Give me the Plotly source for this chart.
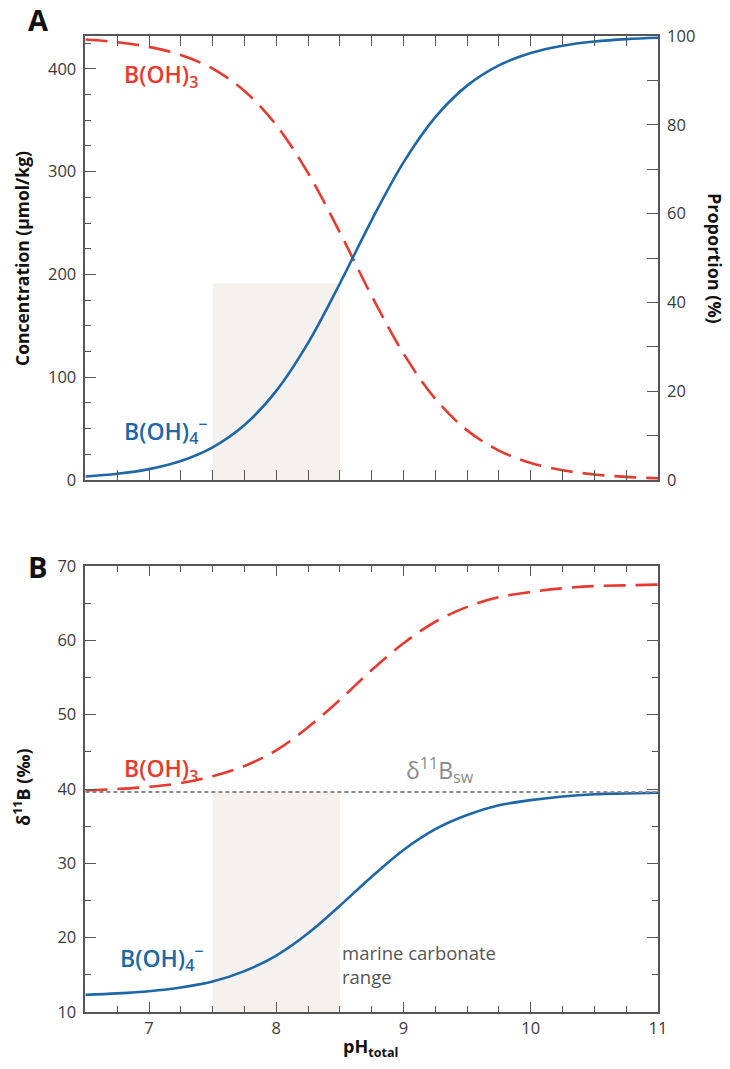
import plotly.graph_objects as go

# ---------------- data ----------------
ph = [6.5, 6.75, 7.0, 7.25, 7.5, 7.75, 8.0, 8.25, 8.5, 8.75,
      9.0, 9.25, 9.5, 9.75, 10.0, 10.25, 10.5, 10.75, 11.0]

# Panel A: concentration (umol/kg)
conc_boh3 = [428.6, 426.0, 421.4, 413.5, 400.2, 378.5, 345.3, 298.6, 240.8, 179.1,
             123.0, 79.0, 48.3, 28.6, 16.6, 9.5, 5.4, 3.0, 1.7]
conc_boh4 = [3.4, 6.0, 10.6, 18.5, 31.8, 53.5, 86.7, 133.4, 191.2, 252.9,
             309.0, 353.0, 383.7, 403.4, 415.4, 422.5, 426.6, 429.0, 430.3]

# Panel B: delta 11B (permil)
d11b_boh3 = [39.8, 40.0, 40.3, 40.8, 41.7, 43.1, 45.2, 48.3, 52.0, 56.0,
             59.6, 62.5, 64.5, 65.8, 66.5, 67.0, 67.3, 67.4, 67.5]
d11b_boh4 = [12.3, 12.5, 12.8, 13.3, 14.1, 15.5, 17.6, 20.6, 24.3, 28.2,
             31.8, 34.6, 36.5, 37.8, 38.5, 39.0, 39.3, 39.4, 39.5]

d11b_sw = 39.6
carbonate_range = [7.5, 8.5]
shade_top_conc = 191.2

x_ticks = [7, 8, 9, 10, 11]
x_tick_labels = ["7", "8", "9", "10", "11"]
conc_ticks = [0, 100, 200, 300, 400]
prop_ticks = [0, 20, 40, 60, 80, 100]
d11b_ticks = [10, 20, 30, 40, 50, 60, 70]

# ---------------- styling ----------------
RED = "#e63a30"
BLUE = "#1d67a6"
AX = "#555555"
TXT = "#3a3a3a"
FONT = "Open Sans"
W, H = 730, 1069

fig = go.Figure()

fig.add_trace(go.Scatter(x=ph, y=conc_boh3, mode="lines", line_shape="spline",
                         line=dict(color=RED, width=2.6, dash="22px,10px"),
                         xaxis="x", yaxis="y", showlegend=False))
fig.add_trace(go.Scatter(x=ph, y=conc_boh4, mode="lines", line_shape="spline",
                         line=dict(color=BLUE, width=2.6),
                         xaxis="x", yaxis="y", showlegend=False))
fig.add_trace(go.Scatter(x=ph, y=d11b_boh3, mode="lines", line_shape="spline",
                         line=dict(color=RED, width=2.6, dash="22px,10px"),
                         xaxis="x2", yaxis="y2", showlegend=False))
fig.add_trace(go.Scatter(x=ph, y=d11b_boh4, mode="lines", line_shape="spline",
                         line=dict(color=BLUE, width=2.6),
                         xaxis="x2", yaxis="y2", showlegend=False))
# invisible trace to activate the right axis of panel A
fig.add_trace(go.Scatter(x=[ph[0]], y=[0], mode="markers", marker=dict(opacity=0),
                         xaxis="x", yaxis="y3", showlegend=False, hoverinfo="skip"))

# shaded marine carbonate range
fig.add_shape(type="rect", xref="x", yref="y", x0=carbonate_range[0], x1=carbonate_range[1],
              y0=0, y1=shade_top_conc, fillcolor="#f4f1ee", line_width=0, layer="below")
fig.add_shape(type="rect", xref="x2", yref="y2", x0=carbonate_range[0], x1=carbonate_range[1],
              y0=10, y1=d11b_sw, fillcolor="#f4f1ee", line_width=0, layer="below")
# seawater line
fig.add_shape(type="line", xref="x2", yref="y2", x0=ph[0], x1=ph[-1], y0=d11b_sw, y1=d11b_sw,
              line=dict(color="#8a8a8a", width=2, dash="4px,3px"), layer="above")

dom_x = [85.4 / W, 658 / W]
dom_a = [1 - 480 / H, 1 - 36 / H]
dom_b = [1 - 1012 / H, 1 - 566 / H]

tickfont = dict(family=FONT, size=16.5, color=TXT)

def xaxis_common(anchor, labels, domain):
    return dict(domain=domain, anchor=anchor, range=[6.5, 11], showgrid=False, zeroline=False,
                automargin=False,
                showline=True, linecolor=AX, linewidth=1.6, mirror="allticks",
                ticks="inside", ticklen=10, tickwidth=1.4, tickcolor=AX,
                tickmode="array", tickvals=x_ticks, ticktext=x_tick_labels,
                showticklabels=labels, tickfont=tickfont,
                minor=dict(ticks="inside", ticklen=6, tickwidth=1.2, tickcolor=AX,
                           tick0=6.5, dtick=0.25))

fig.update_layout(
    template="none",
    width=W, height=H, margin=dict(l=0, r=0, t=0, b=0, autoexpand=False),
    paper_bgcolor="white", plot_bgcolor="white",
    font=dict(family=FONT, color=TXT),
    xaxis=xaxis_common("y", False, dom_x),
    xaxis2=xaxis_common("y2", True, dom_x),
    yaxis=dict(domain=dom_a, anchor="x", range=[0, 432], showgrid=False, zeroline=False,
               automargin=False,
               showline=True, linecolor=AX, linewidth=1.6,
               ticks="inside", ticklen=11, tickwidth=1.4, tickcolor=AX,
               tickmode="array", tickvals=conc_ticks, tickfont=tickfont, ticklabelstandoff=4,
               minor=dict(ticks="inside", ticklen=6, tickwidth=1.2, tickcolor=AX,
                          tick0=0, dtick=25)),
    yaxis3=dict(overlaying="y", anchor="x", side="right", range=[0, 100], showgrid=False,
                automargin=False,
                zeroline=False, showline=True, linecolor=AX, linewidth=1.6,
                ticks="inside", ticklen=11, tickwidth=1.4, tickcolor=AX,
                tickmode="array", tickvals=prop_ticks, tickfont=tickfont, ticklabelstandoff=4,
                minor=dict(ticks="inside", ticklen=11, tickwidth=1.2, tickcolor=AX,
                           tick0=0, dtick=10)),
    yaxis2=dict(domain=dom_b, anchor="x2", range=[10, 70], showgrid=False, zeroline=False,
                automargin=False,
                showline=True, linecolor=AX, linewidth=1.6, mirror="allticks",
                ticks="inside", ticklen=11, tickwidth=1.4, tickcolor=AX,
                tickmode="array", tickvals=d11b_ticks, tickfont=tickfont, ticklabelstandoff=4,
                minor=dict(ticks="inside", ticklen=6, tickwidth=1.2, tickcolor=AX,
                           tick0=10, dtick=5)),
)

ann = []
lab = dict(family=FONT, size=23, weight=600)
ann.append(dict(text="B(OH)<sub>3</sub>", xref="x", yref="y", x=6.79, y=394,
                xanchor="left", yanchor="middle", showarrow=False, font=dict(lab, color=RED)))
ann.append(dict(text="B(OH)<sub>4</sub><sup>\u2212</sup>", xref="x", yref="y", x=6.79, y=48,
                xanchor="left", yanchor="middle", showarrow=False, font=dict(lab, color=BLUE)))
ann.append(dict(text="B(OH)<sub>3</sub>", xref="x2", yref="y2", x=6.79, y=42.6,
                xanchor="left", yanchor="middle", showarrow=False, font=dict(lab, color=RED)))
ann.append(dict(text="B(OH)<sub>4</sub><sup>\u2212</sup>", xref="x2", yref="y2", x=6.76, y=17.2,
                xanchor="left", yanchor="middle", showarrow=False, font=dict(lab, color=BLUE)))
ann.append(dict(text="\u03b4<sup>11</sup>B<sub>sw</sub>", xref="x2", yref="y2", x=9.29, y=42.6,
                xanchor="center", yanchor="middle", showarrow=False,
                font=dict(family=FONT, size=23, color="#8a8a8a")))
ann.append(dict(text="marine carbonate<br>range", xref="x2", yref="y2", x=8.5, y=16.4,
                xanchor="left", yanchor="middle", align="left", showarrow=False,
                font=dict(family=FONT, size=18.5, color="#555555")))
# panel letters
ann.append(dict(text="<b>A</b>", xref="paper", yref="paper", x=38 / W, y=1 - 19 / H,
                xanchor="center", yanchor="middle", showarrow=False,
                font=dict(family=FONT, size=29, color="#111111")))
ann.append(dict(text="<b>B</b>", xref="paper", yref="paper", x=37 / W, y=1 - 566 / H,
                xanchor="center", yanchor="middle", showarrow=False,
                font=dict(family=FONT, size=29, color="#111111")))
# axis titles
ann.append(dict(text="<b>Concentration (\u00b5mol/kg)</b>", xref="paper", yref="paper",
                x=22 / W, y=1 - 259 / H, xanchor="center", yanchor="middle", textangle=-90,
                showarrow=False, font=dict(family=FONT, size=17.5, color="#111111")))
ann.append(dict(text="<b>Proportion (%)</b>", xref="paper", yref="paper",
                x=715 / W, y=1 - 258 / H, xanchor="center", yanchor="middle", textangle=90,
                showarrow=False, font=dict(family=FONT, size=18, color="#111111")))
ann.append(dict(text="<b>\u03b4<sup>11</sup>B (\u2030)</b>", xref="paper", yref="paper",
                x=22 / W, y=1 - 787 / H, xanchor="center", yanchor="middle", textangle=-90,
                showarrow=False, font=dict(family=FONT, size=18, color="#111111")))
ann.append(dict(text="<b>pH<sub>total</sub></b>", xref="paper", yref="paper",
                x=370 / W, y=1 - 1047 / H, xanchor="center", yanchor="middle",
                showarrow=False, font=dict(family=FONT, size=18, color="#111111")))
fig.update_layout(annotations=ann)

fig.write_html("out.html")
